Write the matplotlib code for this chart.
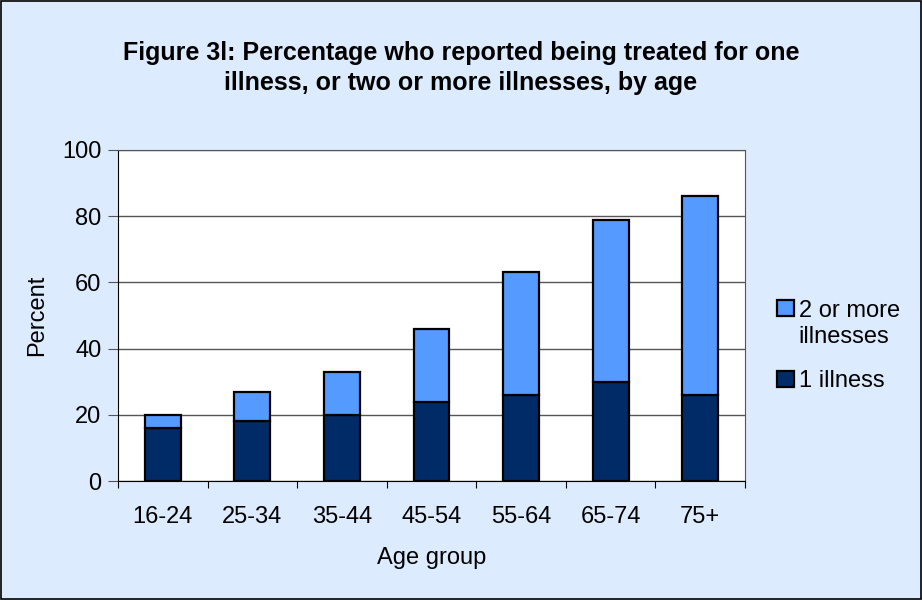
import matplotlib
matplotlib.use("Agg")
import matplotlib.pyplot as plt
from matplotlib.patches import Rectangle
from matplotlib.legend_handler import HandlerPatch
import numpy as np

categories = ["16-24", "25-34", "35-44", "45-54", "55-64", "65-74", "75+"]
one_illness = [16, 18, 20, 24, 26, 30, 26]
two_plus = [4, 9, 13, 22, 37, 49, 60]
yticks = [0, 20, 40, 60, 80, 100]

plt.rcParams['font.family'] = ['Liberation Sans', 'DejaVu Sans']

bg = '#DDEBFF'
dark = '#002B66'
light = '#559BFF'
fs = 17

fig = plt.figure(figsize=(9.22, 6.0), dpi=100, facecolor=bg)
fig.patches.append(Rectangle((0.0015, 0.002), 0.997, 0.996, transform=fig.transFigure,
                             fill=False, edgecolor='black', linewidth=1.2))
ax = fig.add_axes([118/922, 1 - 481/600, (745-118)/922, (481-150)/600])
ax.set_facecolor('white')

x = np.arange(len(categories))
w = 0.40
b1 = ax.bar(x, one_illness, w, color=dark, edgecolor='black', linewidth=1.6, label='1 illness', zorder=3)
b2 = ax.bar(x, two_plus, w, bottom=one_illness, color=light, edgecolor='black', linewidth=1.6,
            label='2 or more\nillnesses', zorder=3)

ax.set_xlim(-0.5, len(categories) - 0.5)
ax.set_ylim(0, 100)
ax.set_yticks(yticks)
ax.set_yticklabels([str(v) for v in yticks], fontsize=fs)
ax.set_xticks(np.arange(len(categories) + 1) - 0.5, minor=False)
ax.set_xticklabels([])
ax.set_xticks(x, minor=True)
ax.set_xticklabels(categories, minor=True, fontsize=fs)
ax.tick_params(axis='x', which='minor', length=0, pad=18)
ax.tick_params(axis='x', which='major', length=5, direction='out', color='black')
ax.tick_params(axis='y', length=7, direction='out', pad=5, color='#555555')
ax.yaxis.grid(True, color='#555555', linewidth=1.0, zorder=0)
for s in ['top', 'right']:
    ax.spines[s].set_color('#555555')
for s in ['left', 'bottom']:
    ax.spines[s].set_color('black')

ax.set_ylabel('Percent', fontsize=fs, labelpad=10)
ax.set_xlabel('Age group', fontsize=fs, labelpad=14)

fig.text(0.5, 1 - 68/600, 'Figure 3l: Percentage who reported being treated for one\nillness, or two or more illnesses, by age',
         ha='center', va='center', fontsize=18, fontweight='bold', linespacing=1.3)


def top_patch(legend, orig_handle, xdescent, ydescent, width, height, fontsize):
    return Rectangle((-xdescent, -ydescent + 0.55 * fontsize * 1.25), width, height)


def plain_patch(legend, orig_handle, xdescent, ydescent, width, height, fontsize):
    return Rectangle((-xdescent, -ydescent), width, height)


h2 = b2.patches[0]
h1 = b1.patches[0]
leg = fig.legend([h2, h1], ['2 or more\nillnesses', '1 illness'], loc='center left',
                 bbox_to_anchor=(756/922, 1 - 346/600), frameon=False, fontsize=fs,
                 handlelength=0.7, handleheight=0.7, handletextpad=0.2, labelspacing=0.95,
                 handler_map={h2: HandlerPatch(patch_func=top_patch),
                              h1: HandlerPatch(patch_func=plain_patch)})
for t in leg.get_texts():
    t.set_linespacing(1.25)

fig.savefig('out.png', dpi=100, facecolor=bg)
